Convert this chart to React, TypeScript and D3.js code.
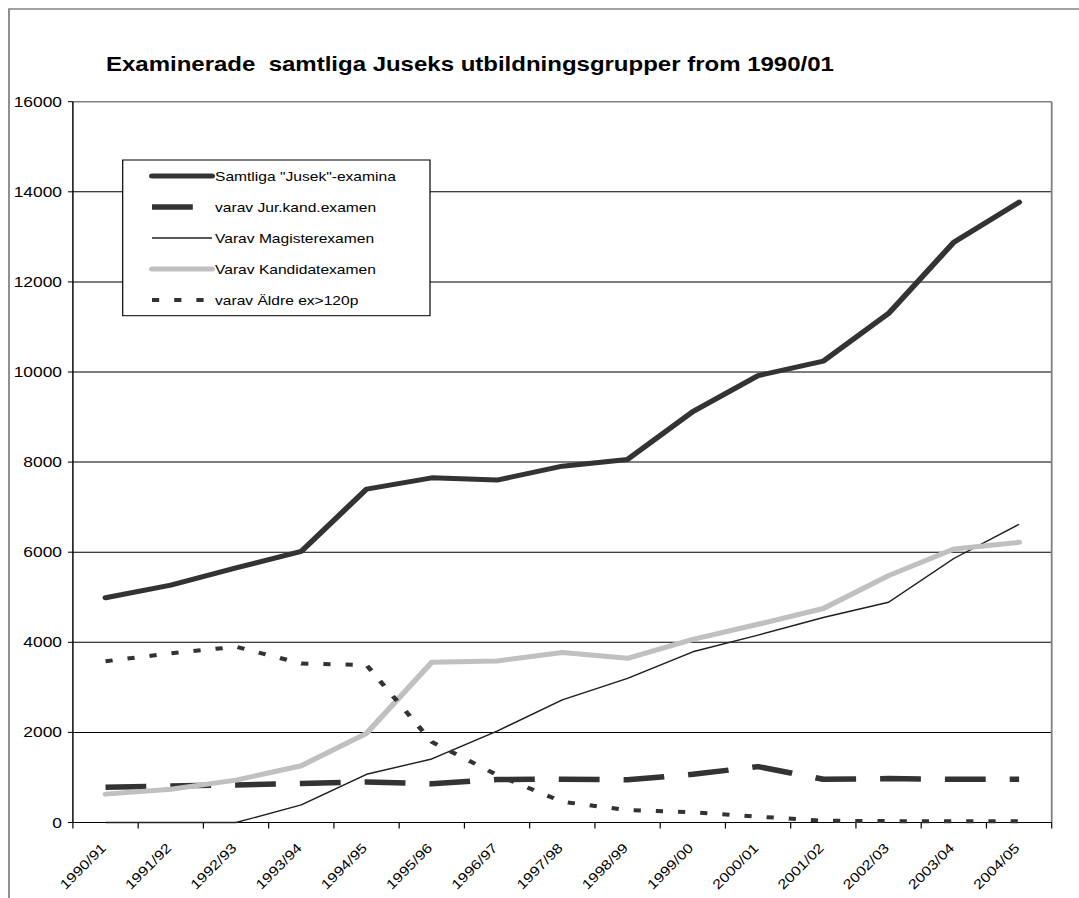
import React from 'react';
import * as d3 from 'd3';

const categories = ['1990/91','1991/92','1992/93','1993/94','1994/95','1995/96','1996/97','1997/98','1998/99','1999/00','2000/01','2001/02','2002/03','2003/04','2004/05'];
const samtliga = [4990, 5270, 5650, 6020, 7400, 7650, 7600, 7910, 8060, 9120, 9920, 10240, 11300, 12880, 13770];
const jurkand = [780, 810, 835, 865, 900, 860, 955, 960, 950, 1070, 1240, 960, 975, 960, 960];
const magister = [0, 0, 0, 390, 1070, 1410, 2030, 2720, 3200, 3790, 4160, 4550, 4890, 5860, 6620];
const kandidat = [630, 740, 940, 1260, 1980, 3555, 3585, 3775, 3645, 4065, 4400, 4750, 5480, 6070, 6220];
const aldre = [3580, 3755, 3900, 3530, 3495, 1790, 1055, 460, 275, 225, 130, 40, 30, 30, 30];
const yTicks = [0, 2000, 4000, 6000, 8000, 10000, 12000, 14000, 16000];
const seriesNames = ['Samtliga "Jusek"-examina', 'varav Jur.kand.examen', 'Varav Magisterexamen', 'Varav Kandidatexamen', 'varav Äldre ex>120p'];

const SX = 1.2;
const W = 1079, H = 898;
const VW = W / SX;
const FONT = 'Arial, "Liberation Sans", Helvetica, sans-serif';

const styles = [
  { stroke: '#333333', width: 5, dash: undefined as string | undefined, cap: 'round' },
  { stroke: '#333333', width: 5.5, dash: '34 20', cap: 'butt' },
  { stroke: '#222222', width: 1.4, dash: undefined, cap: 'butt' },
  { stroke: '#c0c0c0', width: 5, dash: undefined, cap: 'round' },
  { stroke: '#333333', width: 4, dash: '6 12.5', cap: 'butt' },
];

export default function App() {
  const left = 72.9 / SX, right = 1051.7 / SX, top = 101.7, bottom = 822.5;
  const x = d3.scaleBand<string>().domain(categories).range([left, right]).padding(0);
  const y = d3.scaleLinear().domain([0, 16000]).range([bottom, top]);
  const cx = (c: string) => (x(c) as number) + x.bandwidth() / 2;
  const line = d3.line<number>().x((_, i) => cx(categories[i])).y(v => y(v));
  const allSeries = [samtliga, jurkand, magister, kandidat, aldre];

  const legX1 = 122.7 / SX, legX2 = 430 / SX, legY1 = 160, legY2 = 315.7;
  const rowY = [176, 207, 238, 269, 300];

  return (
    <svg width={W} height={H} viewBox={`0 0 ${VW} ${H}`} preserveAspectRatio="none"
      style={{ position: 'absolute', left: 0, top: 0, display: 'block', background: '#fff' }}
      fontFamily={FONT}>
      <rect x={0} y={0} width={VW} height={H} fill="#fff" />
      <rect x={9 / SX} y={9} width={VW + 50} height={H + 50} fill="none" stroke="#8c8c8c" strokeWidth={1.6} />
      <text x={106 / SX} y={71} fontSize={20} fontWeight="bold" fill="#000" style={{ whiteSpace: 'pre' }}>
        {'Examinerade  samtliga Juseks utbildningsgrupper from 1990/01'}
      </text>
      {/* gridlines */}
      {yTicks.filter(t => t > 0 && t < 16000).map(t => (
        <line key={t} x1={left} x2={right} y1={y(t)} y2={y(t)} stroke="#000" strokeWidth={1} />
      ))}
      {/* plot border top/right */}
      <line x1={left} x2={right} y1={top} y2={top} stroke="#808080" strokeWidth={1.5} />
      <line x1={right} x2={right} y1={top} y2={bottom} stroke="#808080" strokeWidth={1.5} />
      {/* axes */}
      <line x1={left} x2={left} y1={top} y2={bottom} stroke="#000" strokeWidth={1.2} />
      <line x1={left} x2={right} y1={bottom} y2={bottom} stroke="#000" strokeWidth={1.2} />
      {yTicks.map(t => (
        <g key={t}>
          <line x1={left - 5 / SX} x2={left} y1={y(t)} y2={y(t)} stroke="#000" strokeWidth={1} />
          <text x={62 / SX} y={y(t)} dy="0.35em" textAnchor="end" fontSize={14.5} fill="#000">{t}</text>
        </g>
      ))}
      {d3.range(categories.length + 1).map(i => {
        const xx = left + i * x.bandwidth();
        return <line key={i} x1={xx} x2={xx} y1={bottom} y2={bottom + 6} stroke="#000" strokeWidth={1} />;
      })}
      {categories.map(c => (
        <text key={c}
          transform={`translate(${cx(c) - 2 / SX},${bottom + 23}) scale(${1 / SX},1) rotate(-45) scale(${SX},1)`}
          textAnchor="end" dy="0.35em" fontSize={13.5} fill="#000">{c}</text>
      ))}
      {/* series */}
      {allSeries.map((s, i) => (
        <path key={i} d={line(s) || ''} fill="none" stroke={styles[i].stroke} strokeWidth={styles[i].width}
          strokeDasharray={styles[i].dash} strokeLinecap={styles[i].cap as any} strokeLinejoin="round" />
      ))}
      {/* legend */}
      <rect x={legX1} y={legY1} width={legX2 - legX1} height={legY2 - legY1} fill="#fff" stroke="#000" strokeWidth={1} />
      {seriesNames.map((n, i) => (
        <g key={n}>
          <line x1={152 / SX} x2={212 / SX} y1={rowY[i]} y2={rowY[i]} stroke={styles[i].stroke} strokeWidth={styles[i].width}
            strokeDasharray={styles[i].dash} strokeLinecap={styles[i].cap as any} />
          <text x={215 / SX} y={rowY[i]} dy="0.35em" fontSize={13} fill="#000">{n}</text>
        </g>
      ))}
    </svg>
  );
}
